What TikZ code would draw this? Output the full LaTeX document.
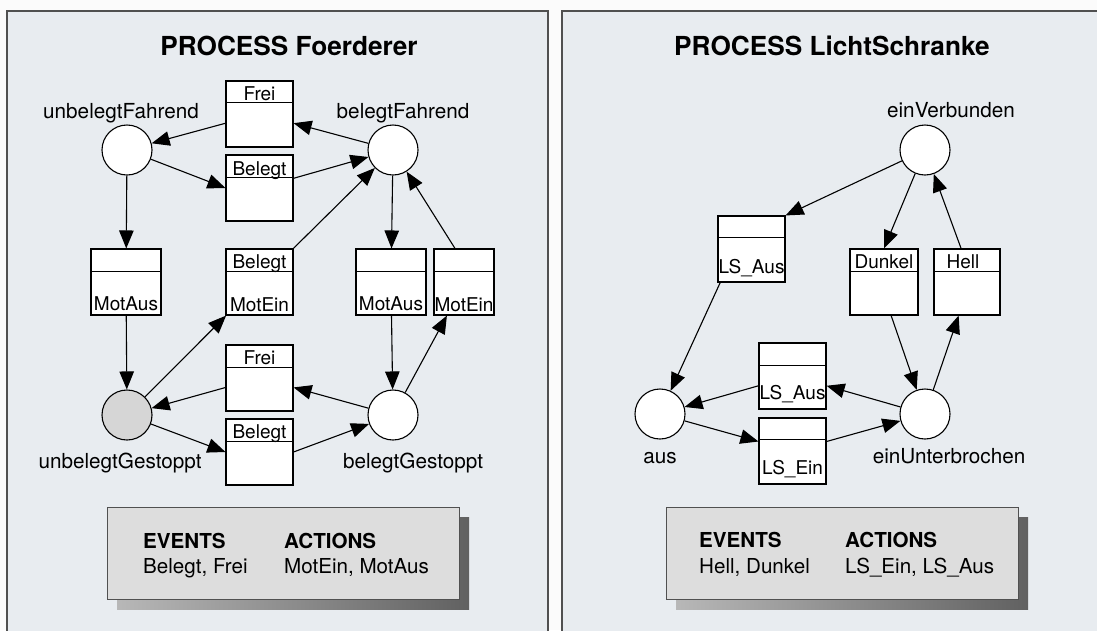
\documentclass[tikz,border=0pt]{standalone}
\usepackage{fontspec}
\setmainfont{TeX Gyre Heros}
\usetikzlibrary{arrows.meta}

\definecolor{panelbg}{RGB}{232,236,240}
\definecolor{rahmen}{RGB}{80,80,80}
\definecolor{evfill}{RGB}{221,221,221}
\definecolor{grauStelle}{RGB}{214,214,214}

\begin{document}
\begin{tikzpicture}[x=1pt,y=1pt,yscale=-1,
  stelle/.style={circle,draw,fill=white,minimum size=50pt,inner sep=0pt,line width=1.1pt},
  trans/.style={rectangle,draw,fill=white,minimum height=66pt,inner sep=0pt,line width=1.1pt},
  teiler/.style={line width=1.1pt},
  pfeil/.style={line width=1.1pt,-{Triangle[length=18pt,width=14.5pt]}},
  ort/.style={font=\fontsize{20.7}{24}\selectfont,inner sep=0pt,anchor=base},
  btext/.style={font=\fontsize{19}{22}\selectfont,inner sep=0pt,anchor=base},
  titel/.style={font=\fontsize{26.2}{30}\selectfont\bfseries,inner sep=0pt,anchor=base},
  evtext/.style={font=\fontsize{20.6}{24}\selectfont,inner sep=0pt,anchor=base west},
  evbox/.style={rectangle,draw=rahmen,fill=evfill,line width=1pt,minimum width=352pt,minimum height=92pt,inner sep=0pt},
  panel/.style={draw=rahmen,fill=panelbg,line width=1.3pt}]
\useasboundingbox (0,0) rectangle (1097,630);
\clip (0,0) rectangle (1097,630);
\fill[white!97!gray] (0,0) rectangle (1097,630);

%Shape: Rectangle (panels)
\draw[panel] (7,11) rectangle (548,660);
\draw[panel] (562,11) rectangle (1120,660);

% ---------------- PROCESS Foerderer ----------------
% Text Node
\node[titel] (titelL) at (289,55) {PROCESS Foerderer};

%Shape: Circle
\node[stelle] (uF) at (127,150) {};
\node[stelle] (bF) at (393,150) {};
\node[stelle,fill=grauStelle] (uG) at (127,415) {};
\node[stelle] (bG) at (393,415) {};

% Text Node
\node[ort] (uF-l) at (121,118) {unbelegtFahrend};
\node[ort] (bF-l) at (403,118) {belegtFahrend};
\node[ort] (uG-l) at (120,468) {unbelegtGestoppt};
\node[ort] (bG-l) at (413,468) {belegtGestoppt};

%Shape: Rectangle (transitions)
\node[trans,minimum width=67pt] (freiO) at (259.5,114) {};
\draw[teiler] (freiO.north west) ++(0,22) -- ++(67,0);
\node[btext] (freiO-t) at (259.5,100) {Frei};

\node[trans,minimum width=67pt] (belegtO) at (259.5,188) {};
\draw[teiler] (belegtO.north west) ++(0,23) -- ++(67,0);
\node[btext] (belegtO-t) at (259.5,175) {Belegt};

\node[trans,minimum width=70pt] (motausL) at (126,282) {};
\draw[teiler] (motausL.north west) ++(0,23) -- ++(70,0);
\node[btext] (motausL-b) at (126,310) {MotAus};

\node[trans,minimum width=67pt] (belmot) at (259.5,282) {};
\draw[teiler] (belmot.north west) ++(0,23) -- ++(67,0);
\node[btext] (belmot-t) at (259.5,268) {Belegt};
\node[btext] (belmot-b) at (259.5,311) {MotEin};

\node[trans,minimum width=70pt] (motausR) at (391,282) {};
\draw[teiler] (motausR.north west) ++(0,23) -- ++(70,0);
\node[btext] (motausR-b) at (391,310) {MotAus};

\node[trans,minimum width=60pt] (moteinR) at (464,282) {};
\draw[teiler] (moteinR.north west) ++(0,23) -- ++(60,0);
\node[btext] (moteinR-b) at (464,311) {MotEin};

\node[trans,minimum width=67pt] (freiU) at (259.5,378) {};
\draw[teiler] (freiU.north west) ++(0,23) -- ++(67,0);
\node[btext] (freiU-t) at (259.5,364) {Frei};

\node[trans,minimum width=67pt] (belegtU) at (259.5,452) {};
\draw[teiler] (belegtU.north west) ++(0,23) -- ++(67,0);
\node[btext] (belegtU-t) at (259.5,438) {Belegt};

%Straight Lines
\draw[pfeil] (freiO) -- (uF);
\draw[pfeil] (uF) -- (belegtO.west);
\draw[pfeil] (belegtO) -- (bF);
\draw[pfeil] (bF) -- (freiO);
\draw[pfeil] (uF) -- (motausL);
\draw[pfeil] (motausL) -- (uG);
\draw[pfeil] (uG) -- (belmot);
\draw[pfeil] (belmot) -- (bF);
\draw[pfeil] (bF) -- (motausR);
\draw[pfeil] (motausR) -- (bG);
\draw[pfeil] (bG) -- (moteinR.243);
\draw[pfeil] (moteinR.105) -- (bF);
\draw[pfeil] (bG) -- (freiU);
\draw[pfeil] (freiU) -- (uG);
\draw[pfeil] (uG) -- (belegtU.west);
\draw[pfeil] (belegtU.east) -- (bG);

%Shape: Rectangle (events)
\shade[left color=black!28,right color=black!62] (117,517) rectangle (469,609);
\node[evbox] (evL) at (283,553) {};
\node[evtext,font=\fontsize{20.6}{24}\selectfont\bfseries] (evL-e) at (143,548) {EVENTS};
\node[evtext] (evL-el) at (143,573) {Belegt, Frei};
\node[evtext,font=\fontsize{20.6}{24}\selectfont\bfseries] (evL-a) at (284,548) {ACTIONS};
\node[evtext] (evL-al) at (284,573) {MotEin, MotAus};

% ---------------- PROCESS LichtSchranke ----------------
% Text Node
\node[titel] (titelR) at (832,55) {PROCESS LichtSchranke};

%Shape: Circle
\node[stelle] (eV) at (925,150) {};
\node[stelle] (aus) at (660,414) {};
\node[stelle] (eU) at (925,414) {};

% Text Node
\node[ort] (eV-l) at (951,117) {einVerbunden};
\node[ort] (aus-l) at (660,463) {aus};
\node[ort] (eU-l) at (949,463) {einUnterbrochen};

%Shape: Rectangle (transitions)
\node[trans,minimum width=67pt] (lsausO) at (751.5,249) {};
\draw[teiler] (lsausO.north west) ++(0,22) -- ++(67,0);
\node[btext] (lsausO-b) at (751.5,273) {LS\_Aus};

\node[trans,minimum width=68pt] (dunkel) at (884,282) {};
\draw[teiler] (dunkel.north west) ++(0,23) -- ++(68,0);
\node[btext] (dunkel-t) at (884,268) {Dunkel};

\node[trans,minimum width=66pt] (hell) at (967,282) {};
\draw[teiler] (hell.north west) ++(0,23) -- ++(66,0);
\node[btext] (hell-t) at (963,268) {Hell};

\node[trans,minimum width=67pt] (lsausU) at (792.5,376) {};
\draw[teiler] (lsausU.north west) ++(0,23) -- ++(67,0);
\node[btext] (lsausU-b) at (792.5,399) {LS\_Aus};

\node[trans,minimum width=67pt] (lsein) at (792.5,451) {};
\draw[teiler] (lsein.north west) ++(0,22) -- ++(67,0);
\node[btext] (lsein-b) at (792.5,474) {LS\_Ein};

%Straight Lines
\draw[pfeil] (eV) -- (lsausO.north east);
\draw[pfeil] (eV) -- (dunkel.north);
\draw[pfeil] (hell.100) -- (eV);
\draw[pfeil] (lsausO.227) -- (aus);
\draw[pfeil] (dunkel.282) -- (eU);
\draw[pfeil] (eU) -- (hell.256);
\draw[pfeil] (eU) -- (lsausU);
\draw[pfeil] (lsausU) -- (aus);
\draw[pfeil] (aus) -- (lsein);
\draw[pfeil] (lsein) -- (eU);

%Shape: Rectangle (events)
\shade[left color=black!28,right color=black!62] (676,517) rectangle (1028,609);
\node[evbox] (evR) at (842,553) {};
\node[evtext,font=\fontsize{20.6}{24}\selectfont\bfseries] (evR-e) at (699,547) {EVENTS};
\node[evtext] (evR-el) at (699,573) {Hell, Dunkel};
\node[evtext,font=\fontsize{20.6}{24}\selectfont\bfseries] (evR-a) at (845,547) {ACTIONS};
\node[evtext] (evR-al) at (845,573) {LS\_Ein, LS\_Aus};

\end{tikzpicture}
\end{document}
